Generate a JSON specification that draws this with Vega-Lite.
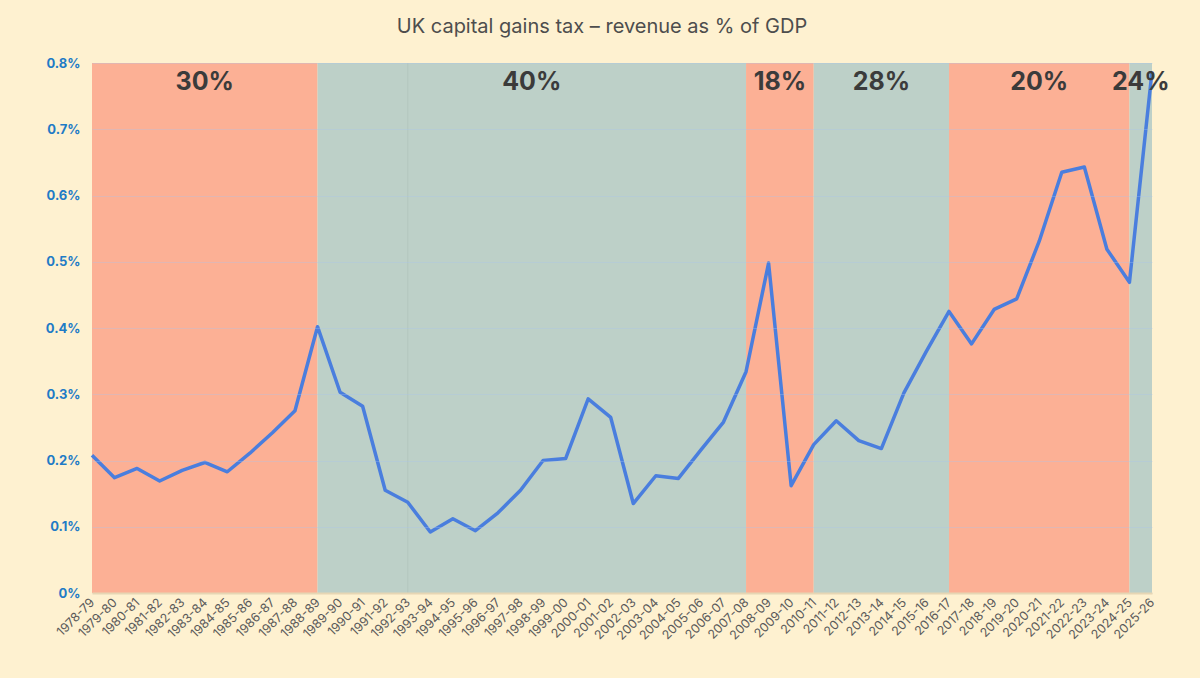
{
  "$schema": "https://vega.github.io/schema/vega-lite/v6.json",
  "width": 1060,
  "height": 530,
  "autosize": {"type": "none"},
  "padding": {"left": 92, "top": 63, "right": 48, "bottom": 85},
  "background": "#fef1d0",
  "title": {
    "text": "UK capital gains tax – revenue as % of GDP",
    "font": "Inter",
    "fontSize": 20,
    "fontWeight": 400,
    "color": "#4d4d4d",
    "anchor": "middle",
    "offset": 20,
    "dx": -20
  },
  "datasets": {
    "cgt": [
      {"year": "1978-79", "value": 0.208},
      {"year": "1979-80", "value": 0.174},
      {"year": "1980-81", "value": 0.188},
      {"year": "1981-82", "value": 0.169},
      {"year": "1982-83", "value": 0.185},
      {"year": "1983-84", "value": 0.197},
      {"year": "1984-85", "value": 0.183},
      {"year": "1985-86", "value": 0.211},
      {"year": "1986-87", "value": 0.242},
      {"year": "1987-88", "value": 0.275},
      {"year": "1988-89", "value": 0.402},
      {"year": "1989-90", "value": 0.303},
      {"year": "1990-91", "value": 0.282},
      {"year": "1991-92", "value": 0.155},
      {"year": "1992-93", "value": 0.137},
      {"year": "1993-94", "value": 0.092},
      {"year": "1994-95", "value": 0.112},
      {"year": "1995-96", "value": 0.094},
      {"year": "1996-97", "value": 0.121},
      {"year": "1997-98", "value": 0.155},
      {"year": "1998-99", "value": 0.200},
      {"year": "1999-00", "value": 0.203},
      {"year": "2000-01", "value": 0.293},
      {"year": "2001-02", "value": 0.265},
      {"year": "2002-03", "value": 0.135},
      {"year": "2003-04", "value": 0.177},
      {"year": "2004-05", "value": 0.173},
      {"year": "2005-06", "value": 0.216},
      {"year": "2006-07", "value": 0.258},
      {"year": "2007-08", "value": 0.334},
      {"year": "2008-09", "value": 0.498},
      {"year": "2009-10", "value": 0.162},
      {"year": "2010-11", "value": 0.224},
      {"year": "2011-12", "value": 0.260},
      {"year": "2012-13", "value": 0.230},
      {"year": "2013-14", "value": 0.218},
      {"year": "2014-15", "value": 0.302},
      {"year": "2015-16", "value": 0.365},
      {"year": "2016-17", "value": 0.425},
      {"year": "2017-18", "value": 0.376},
      {"year": "2018-19", "value": 0.428},
      {"year": "2019-20", "value": 0.444},
      {"year": "2020-21", "value": 0.531},
      {"year": "2021-22", "value": 0.635},
      {"year": "2022-23", "value": 0.643},
      {"year": "2023-24", "value": 0.519},
      {"year": "2024-25", "value": 0.469},
      {"year": "2025-26", "value": 0.787}
    ],
    "bands": [
      {"start": "1978-79", "end": "1988-89", "mid": 5, "rate": "30%", "kind": "a"},
      {"start": "1988-89", "end": "2007-08", "mid": 19.5, "rate": "40%", "kind": "b"},
      {"start": "2007-08", "end": "2010-11", "mid": 30.5, "rate": "18%", "kind": "a"},
      {"start": "2010-11", "end": "2016-17", "mid": 35, "rate": "28%", "kind": "b"},
      {"start": "2016-17", "end": "2024-25", "mid": 42, "rate": "20%", "kind": "a"},
      {"start": "2024-25", "end": "2025-26", "mid": 46.5, "rate": "24%", "kind": "b"}
    ],
    "marker": [{"year": "1992-93"}]
  },
  "layer": [
    {
      "layer": [
        {
          "data": {"name": "bands"},
          "mark": {"type": "rect"},
          "encoding": {
            "x": {"field": "start", "type": "ordinal"},
            "x2": {"field": "end"},
            "y": {"datum": 0, "type": "quantitative"},
            "y2": {"datum": 0.8},
            "color": {
              "field": "kind",
              "type": "nominal",
              "scale": {"domain": ["a", "b"], "range": ["#fcb095", "#bdd0c8"]},
              "legend": null
            }
          }
        },
        {
          "data": {"name": "marker"},
          "mark": {"type": "rule", "color": "#9fb3ab", "strokeWidth": 1, "opacity": 0.3},
          "encoding": {
            "x": {"field": "year", "type": "ordinal"}
          }
        },
        {
          "data": {"name": "cgt"},
          "mark": {"type": "line", "color": "#4a7ede", "strokeWidth": 3.5, "strokeJoin": "round"},
          "encoding": {
            "x": {
              "field": "year",
              "type": "ordinal",
              "scale": {"type": "point", "padding": 0},
              "axis": {
                "title": null,
                "labelAngle": -45,
                "labelAlign": "right",
                "labelBaseline": "middle",
                "labelFont": "Inter",
                "labelFontSize": 12.5,
                "labelColor": "#5a5a5a",
                "labelPadding": 7,
                "ticks": false,
                "domainColor": "#e6d6b4",
                "domainWidth": 2,
                "grid": false
              }
            },
            "y": {
              "field": "value",
              "type": "quantitative",
              "scale": {"domain": [0, 0.8], "nice": false},
              "axis": {
                "title": null,
                "values": [0, 0.1, 0.2, 0.3, 0.4, 0.5, 0.6, 0.7, 0.8],
                "labelExpr": "format(datum.value, '.1~f') + '%'",
                "labelFont": "Inter",
                "labelFontSize": 13,
                "labelFontWeight": 700,
                "labelColor": "#1f7bc6",
                "labelPadding": 12,
                "ticks": false,
                "domain": false,
                "grid": true,
                "gridColor": "#a9c4ef",
                "gridOpacity": 0.32,
                "gridWidth": 1,
                "zindex": 1
              }
            }
          }
        }
      ]
    },
    {
      "data": {"name": "bands"},
      "mark": {
        "type": "text",
        "font": "Inter",
        "fontSize": 25,
        "fontWeight": 700,
        "color": "#3b3b3b",
        "baseline": "middle",
        "dy": 19
      },
      "encoding": {
        "x": {
          "field": "mid",
          "type": "quantitative",
          "scale": {"domain": [0, 47], "nice": false, "zero": false},
          "axis": null
        },
        "y": {"datum": 0.8, "type": "quantitative"},
        "text": {"field": "rate"}
      }
    }
  ],
  "resolve": {"scale": {"x": "independent"}},
  "config": {"view": {"stroke": null}}
}
